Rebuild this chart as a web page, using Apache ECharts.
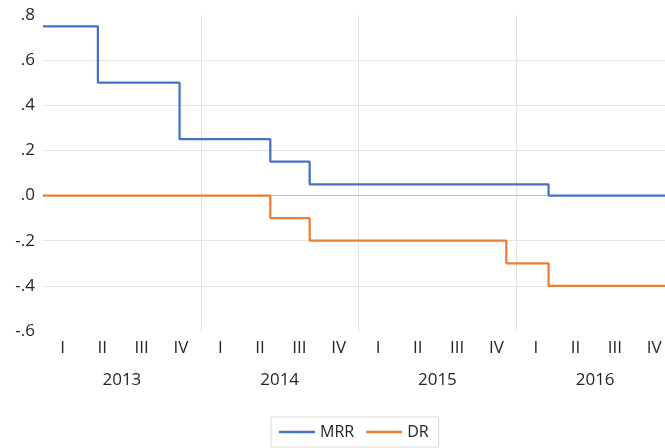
<!DOCTYPE html>
<html>
<head>
<meta charset="utf-8">
<script src="https://cdn.jsdelivr.net/npm/echarts@6/dist/echarts.min.js"></script>
<style>html,body{margin:0;padding:0;background:#fff;}#c{width:665px;height:448px;}</style>
</head>
<body>
<div id="c"></div>
<script>
// Data
const quarterLabels = ['I','II','III','IV','I','II','III','IV','I','II','III','IV','I','II','III','IV'];
const yearLabels = ['2013','2014','2015','2016'];
const mrrDates = ['2013-01-01','2013-05-08','2013-11-13','2014-06-11','2014-09-10','2016-03-16','2017-01-01'];
const mrrValues = [0.75, 0.50, 0.25, 0.15, 0.05, 0.00, 0.00];
const drDates = ['2013-01-01','2014-06-11','2014-09-10','2015-12-09','2016-03-16','2017-01-01'];
const drValues = [0.00, -0.10, -0.20, -0.30, -0.40, -0.40];

function yearFrac(s){
  const p = s.split('-').map(Number);
  const a = Date.UTC(p[0],0,1), b = Date.UTC(p[0]+1,0,1);
  return p[0] + (Date.UTC(p[0],p[1]-1,p[2]) - a)/(b - a);
}
const mrr = mrrDates.map((d,i)=>[yearFrac(d), mrrValues[i]]);
const dr = drDates.map((d,i)=>[yearFrac(d), drValues[i]]);

const FONT = 'Open Sans';
const TXT = '#262626';
const FS = 17;
const chart = echarts.init(document.getElementById('c'));
chart.setOption({
  animation:false,
  grid:{left:43, width:631, top:15, bottom:117, containLabel:false, outerBoundsMode:'none'},
  xAxis:[
    {type:'value', min:2013, max:2017, interval:1,
     axisLine:{show:true, onZero:true, lineStyle:{color:'#bfbfbf', width:1}},
     axisTick:{show:false}, axisLabel:{show:false},
     splitLine:{show:true, showMinLine:false, showMaxLine:false, lineStyle:{color:'#e3e3e3', width:1}}},
    {type:'category', data:quarterLabels, position:'bottom', boundaryGap:true,
     axisLine:{show:false, onZero:false}, axisTick:{show:false}, splitLine:{show:false},
     axisLabel:{interval:0, color:TXT, fontFamily:FONT, fontSize:FS, margin:9}},
    {type:'category', data:yearLabels, position:'bottom', offset:33, boundaryGap:true,
     axisLine:{show:false, onZero:false}, axisTick:{show:false}, splitLine:{show:false},
     axisLabel:{interval:0, color:TXT, fontFamily:FONT, fontSize:FS, margin:8}}
  ],
  yAxis:{type:'value', min:-0.6, max:0.8, interval:0.2,
    axisLine:{show:false}, axisTick:{show:false},
    splitLine:{show:true, showMinLine:false, showMaxLine:false, lineStyle:{color:'#e3e3e3', width:1}},
    axisLabel:{color:TXT, fontFamily:FONT, fontSize:FS, margin:8,
      formatter:function(v){ const a=Math.round(Math.abs(v)*10); return (v<-1e-9?'-':'')+'.'+a; }}
  },
  legend:{bottom:1, left:271, orient:'horizontal',
    borderColor:'#d9d9d9', borderWidth:1, padding:[7,10,7,8], itemGap:12,
    itemWidth:36, itemHeight:2.5,
    textStyle:{color:TXT, fontFamily:FONT, fontSize:16},
    data:[{name:'MRR', icon:'rect'},{name:'DR', icon:'rect'}]},
  series:[
    {name:'MRR', type:'line', step:'end', xAxisIndex:0, data:mrr, symbol:'none',
     itemStyle:{color:'#4472c4'}, lineStyle:{color:'#4472c4', width:2.25}},
    {name:'DR', type:'line', step:'end', xAxisIndex:0, data:dr, symbol:'none',
     itemStyle:{color:'#ed7d31'}, lineStyle:{color:'#ed7d31', width:2.25}}
  ]
});
</script>
</body>
</html>
